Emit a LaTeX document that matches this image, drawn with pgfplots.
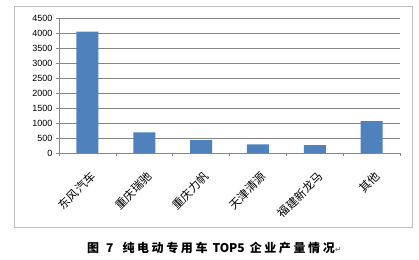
\documentclass[border=0pt]{standalone}
\usepackage{fontspec}
\usepackage{pgfplots}
\pgfplotsset{compat=1.18}
\setmainfont{Liberation Sans}
\newfontfamily\cjk{Noto Sans CJK SC}
\newfontfamily\dejavu{DejaVu Sans}
\definecolor{barblue}{HTML}{4F81BD}
\definecolor{gridgray}{HTML}{868686}
\definecolor{framegray}{HTML}{BFBFBF}
\newcommand\g{\hspace{2.6pt}}
\begin{document}
\begin{tikzpicture}[x=1pt,y=1pt]
\path[use as bounding box] (0,0) rectangle (419,259);
\draw[framegray, line width=0.9pt] (14,32) rectangle (412,253);
\begin{axis}[
  at={(59pt,106pt)}, anchor=south west,
  scale only axis, width=341pt, height=135pt,
  xmin=-0.5, xmax=5.5, ymin=0, ymax=4500,
  ytick={0,500,...,4500},
  xtick={-0.5,0.5,...,5.5},
  x tick label as interval,
  xticklabels={东风汽车,重庆瑞驰,重庆力帆,天津清源,福建新龙马,其他},
  axis lines*=left,
  axis line style={gridgray, line width=0.6pt},
  tick align=outside,
  major tick length=3.5pt,
  tick style={gridgray, line width=0.6pt},
  ymajorgrids,
  grid style={gridgray, line width=0.7pt},
  /pgf/number format/assume math mode=true,
  /pgf/number format/1000 sep={},
  y tick label style={font=\fontsize{9}{9}\selectfont, inner sep=1pt, xshift=-2pt},
  x tick label style={font=\cjk\fontsize{11.5}{11.5}\selectfont, yshift=-14pt, xshift=2pt, rotate=45, anchor=north east, inner sep=0pt},
  ybar, bar width=22pt,
]
\addplot[fill=barblue, draw=none] coordinates {(0,4050) (1,690) (2,430) (3,290) (4,265) (5,1065)};
\end{axis}
\node[font=\cjk\bfseries\fontsize{12}{12}\selectfont, anchor=west, inner sep=0pt] at (87,11)
  {图\hspace{7pt}7\hspace{9pt}纯\g 电\g 动\g 专\g 用\g 车\hspace{5pt}TOP5\hspace{5pt}企\g 业\g 产\g 量\g 情\g 况{\dejavu\fontsize{8}{8}\selectfont\color{gray}↵}};
\end{tikzpicture}
\end{document}
